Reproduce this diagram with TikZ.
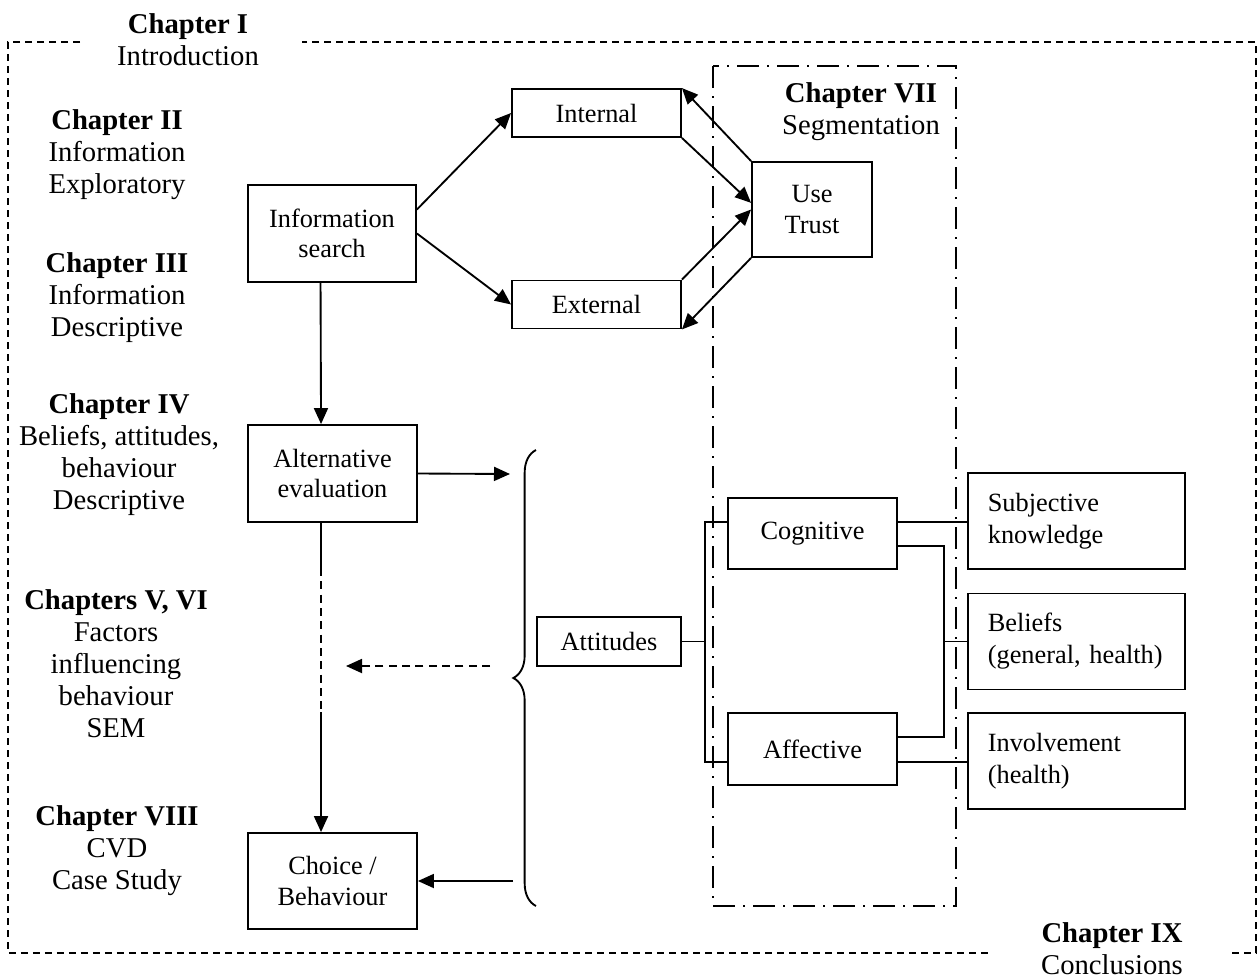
\documentclass[tikz,border=0pt]{standalone}
\usepackage{fontspec}
\setmainfont{Liberation Serif}
\usetikzlibrary{arrows.meta,decorations.pathreplacing}

\tikzset{every picture/.style={line width=1.4pt}}
\tikzset{
  box/.style={draw, align=center, inner sep=0pt, font=\fontsize{19.75}{23}\selectfont},
  factorbox/.style={draw, align=left, text width=133pt, inner xsep=14.75pt, inner ysep=0pt, minimum height=72pt, font=\fontsize{19.75}{24}\selectfont},
  chaplabel/.style={align=center, inner sep=0pt},
  flow/.style={-{Triangle[length=12pt,width=10.5pt]}},
}

\begin{document}
\begin{tikzpicture}[x=0.75pt,y=0.75pt,yscale=-1,xscale=1,font=\fontsize{21.5}{24}\selectfont]
\useasboundingbox (0,0) rectangle (1258,979);

%Shape: Frame (whole thesis)
\draw [dash pattern={on 5pt off 4pt}] (80,42) -- (8,42) -- (8,953) -- (992,953) (1232,953) -- (1256,953) -- (1256,42) -- (302,42) ;
%Shape: Frame (Chapter VII)
\draw [dash pattern={on 16.5pt off 6pt on 1.5pt off 6pt}] (713,66) rectangle (956,906) ;

% Text Node
\draw (188,40) node [chaplabel] (chI) {\textbf{Chapter I}\\Introduction};
% Text Node
\draw (117,155) node [chaplabel] (chII) {\textbf{Chapter II}\\Information\\Exploratory};
% Text Node
\draw (117,298) node [chaplabel] (chIII) {\textbf{Chapter III}\\Information\\Descriptive};
% Text Node
\draw (119,455) node [chaplabel] (chIV) {\textbf{Chapter IV}\\Beliefs, attitudes,\\behaviour\\Descriptive};
% Text Node
\draw (116,664) node [chaplabel] (chV) {\textbf{Chapters V, VI}\\Factors\\influencing\\behaviour\\SEM};
% Text Node
\draw (117,851) node [chaplabel] (chVIII) {\textbf{Chapter VIII}\\CVD\\Case Study};
% Text Node
\draw (861,112) node [chaplabel] (chVII) {\textbf{Chapter VII}\\Segmentation};
% Text Node
\draw (1112,949) node [chaplabel] (chIX) {\textbf{Chapter IX}\\Conclusions};

%Shape: Rectangle
\draw (332,233.5) node [box, minimum width=126pt, minimum height=72.75pt] (info) {Information\\search};
\draw (596.5,113) node [box, minimum width=126.75pt, minimum height=36pt] (int) {Internal};
\draw (596.5,304.5) node [box, minimum width=126.75pt, minimum height=36pt] (ext) {External};
\draw (812,209.5) node [box, minimum width=90pt, minimum height=71.25pt] (use) {Use\\Trust};
\draw (332.5,473.5) node [box, minimum width=126.75pt, minimum height=72.75pt] (alt) {Alternative\\evaluation};
\draw (332.5,881) node [box, minimum width=126.75pt, minimum height=72pt] (cho) {Choice /\\Behaviour};
\draw (609,641.5) node [box, minimum width=108pt, minimum height=36.75pt] (att) {Attitudes};
\draw (812.5,533.5) node [box, minimum width=126.75pt, minimum height=53.25pt] (cog) {Cognitive};
\draw (812.5,749) node [box, minimum width=126.75pt, minimum height=54pt] (aff) {Affective};
\draw (1076.5,521) node [factorbox] (subj) {Subjective\\knowledge};
\draw (1076.5,641.5) node [factorbox] (bel) {Beliefs\\(general, health)};
\draw (1076.5,761) node [factorbox] (inv) {Involvement\\(health)};

%Straight Lines (information sources)
\draw [flow] ([yshift=-18pt]info.east) -- (int.west) ;
\draw [flow] (info.east) -- (ext.west) ;
\draw [flow] (use.north west) -- (int.north east) ;
\draw [flow] (int.south east) -- ([yshift=-5pt]use.west) ;
\draw [flow] (ext.north east) -- (use.west) ;
\draw [flow] (use.south west) -- (ext.south east) ;

%Straight Lines (decision process)
\coordinate (gapA) at (321,568) ;
\coordinate (gapB) at (321,712) ;
\draw [flow] ([xshift=-8.6pt]info.south) -- ([xshift=-8.6pt]alt.north) ;
\draw ([xshift=-8.6pt]alt.south) -- (gapA) ;
\draw [dash pattern={on 6pt off 4pt}] (gapA) -- (gapB) ;
\draw [flow] (gapB) -- ([xshift=-8.6pt]cho.north) ;

%Brace
\draw [decorate, decoration={brace, amplitude=17pt}] (536,906) -- (536,450) ;
\coordinate (toBrace) at (510,474) ;
\coordinate (fromBrace) at (513,881) ;
\coordinate (dashFrom) at (490,666) ;
\coordinate (dashTo) at (346,666) ;
\draw [flow] (alt.east) -- (toBrace) ;
\draw [flow] (fromBrace) -- (cho.east) ;
\draw [flow, dash pattern={on 6pt off 4pt}] (dashFrom) -- (dashTo) ;

%Straight Lines (attitude components)
\coordinate (split) at (705,641.5) ;
\coordinate (join) at (944,641.5) ;
\draw (att.east) -- (split) ;
\draw ([yshift=-8.6pt]cog.west) -| (split) |- ([yshift=9.75pt]aff.west) ;
\draw ([yshift=-8.6pt]cog.east) -- ([yshift=-8.6pt]cog.east -| subj.west) ;
\draw ([yshift=9.4pt]cog.east) -| (join) |- ([yshift=-9pt]aff.east) ;
\draw (join) -- (bel.west) ;
\draw ([yshift=9.75pt]aff.east) -- ([yshift=9.75pt]aff.east -| inv.west) ;

\end{tikzpicture}
\end{document}
